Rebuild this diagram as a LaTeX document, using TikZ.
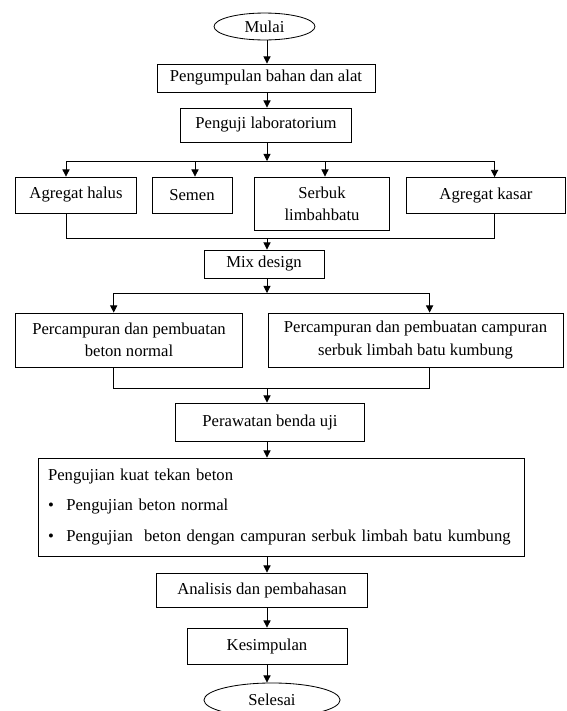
\documentclass[tikz,border=0pt]{standalone}
\usepackage{fontspec}
\setmainfont{Liberation Serif}
\usetikzlibrary{shapes.geometric, arrows.meta}

\begin{document}
\begin{tikzpicture}[x=0.72pt, y=-0.72pt, line width=0.6pt,
                    font=\fontsize{12}{16}\selectfont,
                    box/.style={draw, rectangle, inner sep=0pt, align=center},
                    oval/.style={draw, ellipse, inner sep=0pt},
                    arr/.style={-{Triangle[length=5.2pt, width=5.2pt]}}]
    \useasboundingbox (0,0) rectangle (566,711);

    % Nodes
    \node[oval, minimum width=72.7pt, minimum height=19.4pt] (mulai) at (264.5,26.5) {Mulai};
    \node[box, minimum width=157pt, minimum height=20.2pt] (kumpul) at (266,78) {Pengumpulan bahan dan alat};
    \node[box, minimum width=123.5pt, minimum height=24.5pt] (uji) at (266,125) {Penguji laboratorium};

    \node[box, minimum width=87.5pt, minimum height=25.9pt] (halus) at (76,195) {Agregat halus};
    \node[box, minimum width=57.6pt, minimum height=25.9pt] (semen) at (192,195) {Semen};
    \node[box, minimum width=97.6pt, minimum height=38.2pt] (serbuk) at (322,203.5) {Serbuk\\limbahbatu};
    \node[box, minimum width=114.5pt, minimum height=25.9pt] (kasar) at (486,195.5) {Agregat kasar};

    \node[box, minimum width=86.4pt, minimum height=20.2pt] (mix) at (264,264) {Mix design};
    \node[box, minimum width=163.9pt, minimum height=38.9pt] (normal) at (129,340) {Percampuran dan pembuatan\\beton normal};
    \node[box, minimum width=212.4pt, minimum height=38.9pt] (campur) at (415.5,340) {Percampuran dan pembuatan campuran\\serbuk limbah batu kumbung};
    \node[box, minimum width=135.8pt, minimum height=27.4pt] (rawat) at (270,422) {Perawatan benda uji};

    \node[box, align=left, text width=335.5pt, minimum height=70.6pt, inner xsep=7.2pt,
          font=\fontsize{12}{22.3}\selectfont] (tekan) at (281,507)
        {Pengujian kuat tekan beton\\
         \makebox[13.2pt][l]{\textbullet}Pengujian beton normal\\
         \makebox[13.2pt][l]{\textbullet}Pengujian\ \ beton dengan campuran serbuk limbah batu kumbung};

    \node[box, minimum width=152.3pt, minimum height=24.5pt] (analisis) at (262,590) {Analisis dan pembahasan};
    \node[box, minimum width=115.2pt, minimum height=25.9pt] (simpul) at (267,646) {Kesimpulan};
    \node[oval, minimum width=98pt, minimum height=24.5pt] (selesai) at (272,700) {Selesai};

    % Edges
    \coordinate (sp) at (267,0);
    \foreach \a/\b in {mulai/kumpul, kumpul/uji, rawat/tekan, tekan/analisis, analisis/simpul, simpul/selesai}
        \draw[arr] (\a.south -| sp) -- (\b.north -| sp);

    % first branch
    \coordinate (br1) at (267,161);
    \draw[arr] (uji.south -| sp) -- (br1);
    \draw (66,161) -- (494.6,161);
    \foreach \n/\x in {halus/66, semen/195, serbuk/325, kasar/494.6}
        \draw[arr] (\x,161) -- (\n.north -| \x,0);
    \coordinate (cl1) at (267,238);
    \draw (halus.south -| 66,0) -- (66,238) -- (494.6,238) -- (kasar.south -| 494.6,0);
    \draw[arr] (cl1) -- (mix.north -| sp);

    % second branch
    \coordinate (br2) at (267,293);
    \draw[arr] (mix.south -| sp) -- (br2);
    \draw (113.7,293) -- (429.6,293);
    \foreach \n/\x in {normal/113.7, campur/429.6}
        \draw[arr] (\x,293) -- (\n.north -| \x,0);
    \coordinate (cl2) at (267,388);
    \draw (normal.south -| 113.7,0) -- (113.7,388) -- (429.6,388) -- (campur.south -| 429.6,0);
    \draw[arr] (cl2) -- (rawat.north -| sp);

\end{tikzpicture}
\end{document}
